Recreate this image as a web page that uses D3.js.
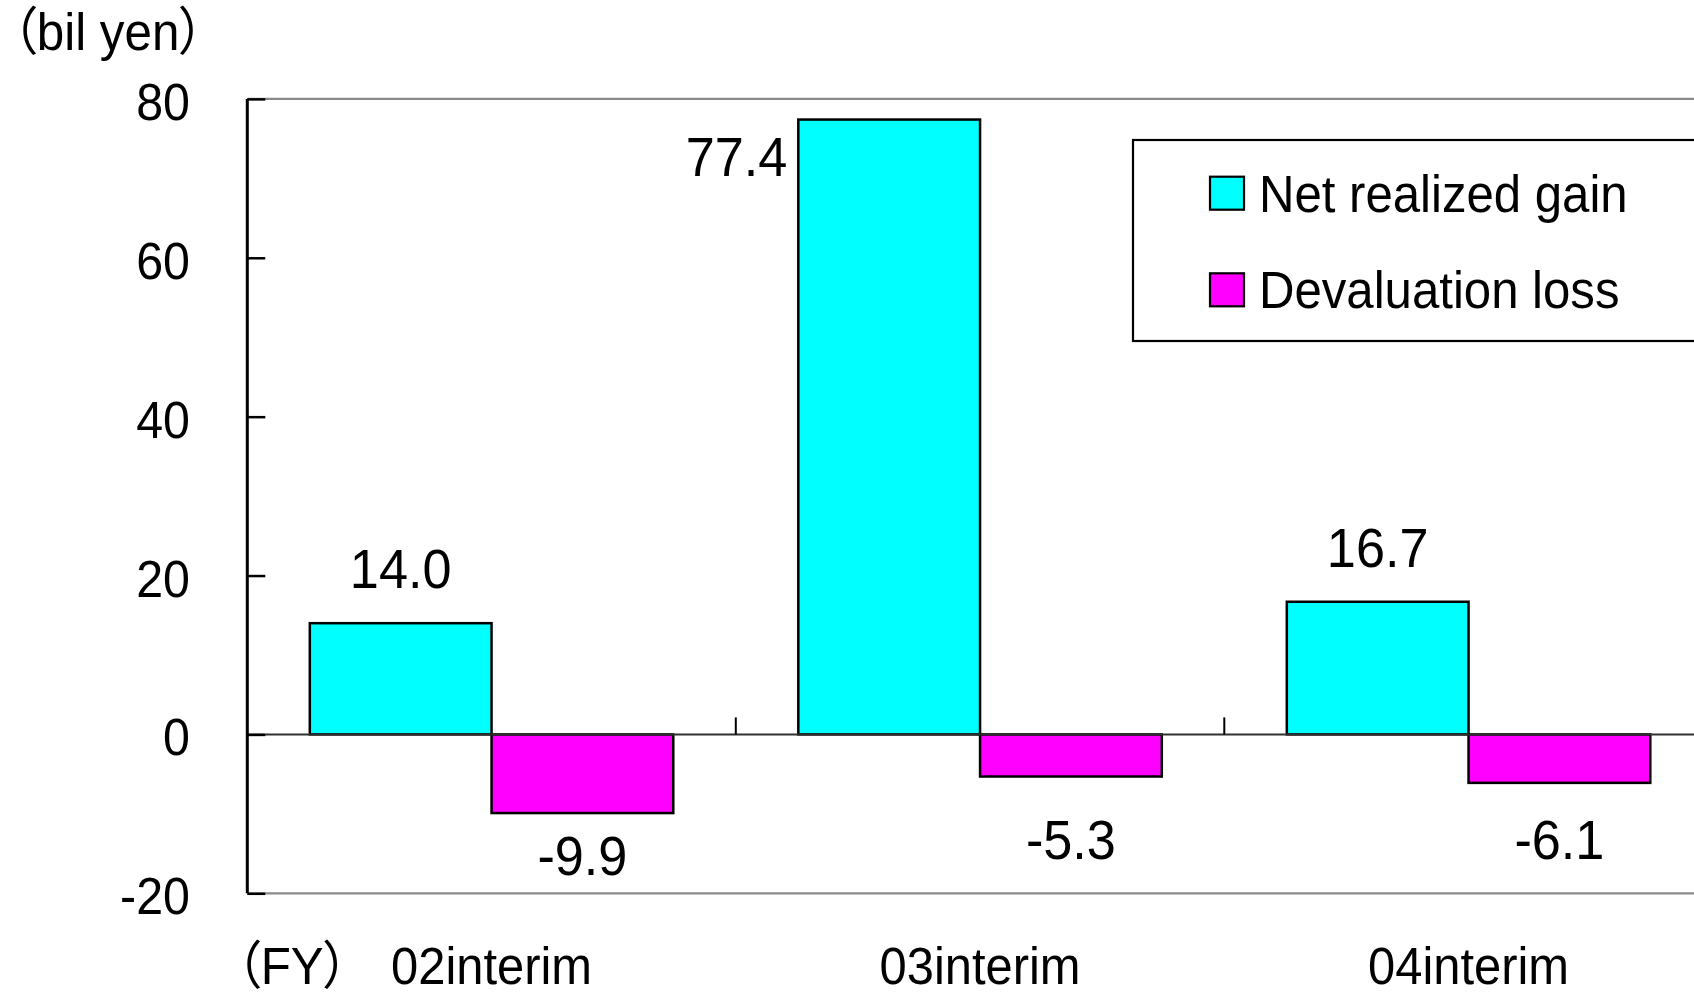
<!DOCTYPE html>
<html>
<head>
<meta charset="utf-8">
<script src="https://cdn.jsdelivr.net/npm/d3@7"></script>
<style>
  html, body { margin: 0; padding: 0; background: #fff; }
  svg { display: block; }
  text { font-family: "Liberation Sans", Arial, "Noto Sans CJK JP", sans-serif; fill: #000; font-feature-settings: "palt"; }
</style>
</head>
<body>
<svg id="chart" width="1694" height="997"></svg>
<script>
// Securities gains and losses by fiscal half-year (bil yen)
const categories = ["02interim", "03interim", "04interim"];
const seriesNames = ["Net realized gain", "Devaluation loss"];
const netRealizedGain = [14.0, 77.4, 16.7];
const devaluationLoss = [-9.9, -5.3, -6.1];
const yTicks = [-20, 0, 20, 40, 60, 80];
const seriesColors = ["#00FFFF", "#FF00FF"];
const unitLabel = "（bil yen）";
const fyLabel = "（FY）";

const rows = categories.map((c, i) => ({
  cat: c,
  values: [
    { key: seriesNames[0], v: netRealizedGain[i] },
    { key: seriesNames[1], v: devaluationLoss[i] }
  ]
}));

const svg = d3.select("#chart");
const W = 1694, H = 997;
const plot = { left: 247.3, right: 1712.8, top: 98.9, bottom: 893.3 };

const y = d3.scaleLinear().domain([-20, 80]).range([plot.bottom, plot.top]);
const x0 = d3.scaleBand().domain(categories).range([plot.left, plot.right]).padding(0);
const x1 = d3.scaleBand().domain(seriesNames).range([0, x0.bandwidth()])
  .paddingInner(0).paddingOuter(0.344);
const color = d3.scaleOrdinal().domain(seriesNames).range(seriesColors);

// text helper: slightly condensed glyphs
function label(g, str, x, yy, size, anchor, sx) {
  return g.append("text")
    .attr("transform", `translate(${x},${yy}) scale(${sx},1)`)
    .attr("text-anchor", anchor)
    .style("font-size", size + "px")
    .text(str);
}

// top and bottom frame lines
svg.append("g").selectAll("line.frame")
  .data([80, -20]).join("line")
  .attr("x1", plot.left).attr("x2", W + 20)
  .attr("y1", d => y(d)).attr("y2", d => y(d))
  .attr("stroke", "#8a8a8a").attr("stroke-width", 2.2);

// bars
const gBars = svg.append("g");
rows.forEach(r => {
  gBars.selectAll(null).data(r.values).join("rect")
    .attr("x", d => x0(r.cat) + x1(d.key))
    .attr("width", x1.bandwidth())
    .attr("y", d => y(Math.max(0, d.v)))
    .attr("height", d => Math.abs(y(d.v) - y(0)))
    .attr("fill", d => color(d.key))
    .attr("stroke", "#000").attr("stroke-width", 2.5);
});

// zero line and category separators
svg.append("line")
  .attr("x1", plot.left).attr("x2", W + 20)
  .attr("y1", y(0)).attr("y2", y(0))
  .attr("stroke", "#303030").attr("stroke-width", 2);
svg.append("g").selectAll("line")
  .data(categories.slice(1)).join("line")
  .attr("x1", d => x0(d)).attr("x2", d => x0(d))
  .attr("y1", y(0)).attr("y2", y(0) - 17)
  .attr("stroke", "#000").attr("stroke-width", 2);

// y axis
const yAxis = d3.axisRight(y).tickValues(yTicks).tickSize(18).tickFormat("");
const gy = svg.append("g").attr("transform", `translate(${plot.left},0)`).call(yAxis);
gy.select(".domain").attr("stroke", "#000").attr("stroke-width", 3)
  .attr("d", `M0,${plot.top}V${plot.bottom}`);
gy.selectAll(".tick line").attr("stroke", "#000").attr("stroke-width", 2.5);

const gTickLabels = svg.append("g");
yTicks.forEach(t => label(gTickLabels, String(t), 190, y(t) + 21, 52, "end", 0.93));

// data labels
const gLabels = svg.append("g");
rows.forEach(r => {
  r.values.forEach(d => {
    const bx = x0(r.cat) + x1(d.key);
    const cx = bx + x1.bandwidth() / 2;
    const txt = d.v.toFixed(1);
    if (d.v >= 0) {
      const base = y(d.v) - 35;
      if (base - 40 < plot.top) {
        label(gLabels, txt, bx - 11, y(d.v) + 56, 55, "end", 0.95);
      } else {
        label(gLabels, txt, cx, base, 55, "middle", 0.95);
      }
    } else {
      const base = Math.max(y(d.v) + 62, y(0) + 125);
      label(gLabels, txt, cx, base, 55, "middle", 0.95);
    }
  });
});

// category labels along the bottom
const catBaseline = 984;
const gCats = svg.append("g");
categories.forEach(c => label(gCats, c, x0(c) + x0.bandwidth() / 2, catBaseline, 52, "middle", 0.94));
label(svg, fyLabel, 236, catBaseline, 52, "start", 0.95);
label(svg, unitLabel, 12, 50, 52, "start", 0.95);

// legend
const leg = svg.append("g");
leg.append("rect")
  .attr("x", 1133).attr("y", 140).attr("width", 620).attr("height", 201)
  .attr("fill", "#fff").attr("stroke", "#000").attr("stroke-width", 2.2);
const legRows = [176.7, 273.3];
seriesNames.forEach((s, i) => {
  leg.append("rect")
    .attr("x", 1210).attr("y", legRows[i]).attr("width", 34).attr("height", 33)
    .attr("fill", color(s)).attr("stroke", "#000").attr("stroke-width", 2.2);
  label(leg, s, 1259, legRows[i] + 35, 52, "start", 0.945);
});
</script>
</body>
</html>
